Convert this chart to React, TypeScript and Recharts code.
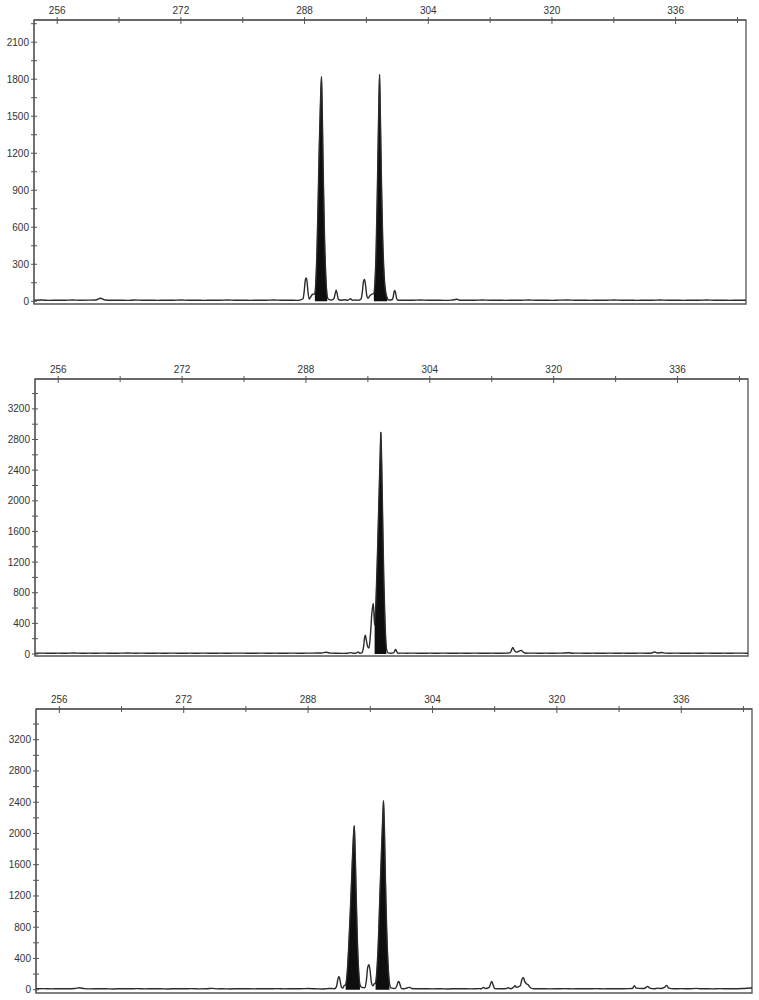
import { ComposedChart, Line, Area, XAxis, YAxis, ReferenceArea } from "recharts";

// fragment size axis shared by all three lanes
const sizeTicks = [256, 264, 272, 280, 288, 296, 304, 312, 320, 328, 336, 344];
const sizeLabels = [256, 272, 288, 304, 320, 336];
const sizeDomain: [number, number] = [253, 345.1];

// lane 1: [size, rfu]
const lane1Trace: [number, number][] = [
  [253, 8], [254, 10], [255, 7], [256, 9], [257, 8], [258, 10], [259, 8], [260, 9], [261, 11], [261.6, 25],
  [262.2, 10], [263, 8], [264, 9], [265, 7], [266, 10], [267, 8], [268, 9], [269, 7], [270, 9], [271, 8],
  [272, 10], [273, 8], [274, 9], [275, 7], [276, 9], [277, 8], [278, 10], [279, 8], [280, 9], [281, 7],
  [282, 9], [283, 8], [284, 10], [285, 8], [286, 9], [287, 7], [287.5, 12], [287.8, 20], [287.95, 80],
  [288.08, 165], [288.2, 190], [288.32, 160], [288.44, 75], [288.6, 18], [288.8, 35], [288.95, 52], [289.15, 58],
  [289.33, 60], [289.45, 150], [289.6, 400], [289.75, 800], [289.9, 1250], [290.05, 1600], [290.19, 1820],
  [290.31, 1450], [290.44, 950], [290.58, 520], [290.75, 200], [290.93, 40],
  [291.1, 15], [291.5, 10], [291.8, 20], [291.95, 60], [292.09, 89], [292.22, 60], [292.38, 15], [292.7, 8],
  [293.2, 12], [293.6, 9], [293.94, 20], [294.2, 8], [294.6, 10], [295.0, 9], [295.3, 18], [295.48, 80],
  [295.62, 160], [295.76, 176], [295.9, 125], [296.05, 45], [296.2, 25], [296.45, 45], [296.7, 58],
  [296.96, 62], [297.1, 150], [297.25, 400], [297.4, 850], [297.55, 1400], [297.7, 1838], [297.82, 1450],
  [297.95, 950], [298.1, 520], [298.3, 200], [298.5, 70], [298.69, 25],
  [298.9, 10], [299.3, 12], [299.48, 40], [299.58, 78], [299.68, 87], [299.8, 58], [299.97, 12], [300.3, 8],
  [301, 9], [302, 8], [303, 10], [304, 8], [305, 9], [306, 7], [307, 9], [307.7, 16], [308.2, 8], [309, 9],
  [310, 8], [311, 10], [312, 8], [313, 9], [314, 7], [315, 9], [316, 8], [317, 10], [318, 8], [319, 9],
  [320, 7], [321, 9], [322, 10], [323, 8], [324, 9], [325, 7], [326, 9], [327, 8], [328, 10], [329, 8],
  [330, 9], [331, 7], [332, 9], [333, 8], [334, 10], [335, 8], [336, 9], [337, 7], [338, 9], [339, 8],
  [340, 10], [341, 8], [342, 9], [343, 7], [344, 9], [345, 8], [345.1, 9],
];
const lane1Called: [number, number][] = [[289.33, 290.93], [296.96, 298.69]];
const lane1Ticks = [0, 150, 300, 450, 600, 750, 900, 1050, 1200, 1350, 1500, 1650, 1800, 1950, 2100, 2250];
const lane1Labels = [0, 300, 600, 900, 1200, 1500, 1800, 2100];
const lane1Domain: [number, number] = [-22, 2280];

// lane 2
const lane2Trace: [number, number][] = [
  [253, 10], [254, 12], [255, 9], [256, 11], [257, 10], [258, 13], [259, 9], [260, 11], [261, 10], [262, 12],
  [263, 9], [264, 11], [265, 13], [266, 10], [267, 12], [268, 9], [269, 11], [270, 10], [271, 12], [272, 9],
  [273, 11], [274, 10], [275, 12], [276, 9], [277, 11], [278, 10], [279, 12], [280, 11], [281, 9], [282, 12],
  [283, 10], [284, 11], [285, 9], [286, 12], [287, 10], [288, 11], [289, 12], [290, 13], [290.6, 22],
  [291.2, 12], [292, 9], [292.8, 8], [293.4, 10], [293.77, 18], [294.1, 9], [294.5, 12], [294.72, 28],
  [294.95, 10], [295.2, 15], [295.45, 100], [295.57, 210], [295.67, 244], [295.8, 180], [295.98, 95],
  [296.14, 78], [296.32, 240], [296.52, 540], [296.7, 659], [296.8, 500], [296.87, 380],
  [297.05, 700], [297.25, 1350], [297.45, 2100], [297.6, 2650], [297.68, 2894], [297.78, 2500],
  [297.92, 1700], [298.05, 1000], [298.2, 450], [298.38, 80],
  [298.6, 15], [299.0, 10], [299.35, 18], [299.48, 45], [299.58, 60], [299.7, 38], [299.87, 10], [300.5, 12],
  [301, 10], [302, 12], [303, 9], [304, 11], [305, 10], [306, 12], [307, 9], [308, 11], [309, 10], [310, 12],
  [311, 9], [312, 11], [313, 10], [314, 12], [314.4, 18], [314.58, 60], [314.72, 84], [314.9, 50],
  [315.2, 25], [315.5, 35], [315.8, 48], [316.1, 20], [316.5, 10], [317, 12], [318, 10], [319, 11],
  [320, 9], [321, 12], [322, 16], [322.5, 10], [323, 12], [324, 10], [325, 11], [326, 9], [327, 12],
  [328, 10], [329, 11], [330, 9], [331, 12], [332, 10], [332.7, 14], [333, 26], [333.4, 14], [334, 20],
  [334.4, 11], [335, 10], [336, 12], [337, 9], [338, 11], [339, 10], [340, 12], [341, 9], [342, 11],
  [343, 10], [344, 12], [345, 10], [345.1, 11],
];
const lane2Called: [number, number][] = [[296.87, 298.38]];
const lane2Ticks = [0, 200, 400, 600, 800, 1000, 1200, 1400, 1600, 1800, 2000, 2200, 2400, 2600, 2800, 3000, 3200, 3400];
const lane2Labels = [0, 400, 800, 1200, 1600, 2000, 2400, 2800, 3200];
const lane2Domain: [number, number] = [-26, 3590];

// lane 3
const lane3Trace: [number, number][] = [
  [253, 12], [254, 14], [255, 11], [256, 13], [257, 12], [258, 16], [258.6, 25], [259.2, 14], [260, 11],
  [261, 13], [262, 12], [263, 10], [264, 13], [265, 12], [266, 14], [267, 11], [268, 13], [269, 12],
  [270, 10], [271, 13], [272, 12], [273, 14], [274, 11], [275, 13], [275.7, 17], [276.3, 11], [277, 12],
  [278, 10], [279, 13], [280, 12], [281, 11], [282, 13], [283, 12], [284, 14], [285, 11], [286, 13],
  [287, 12], [288, 15], [289, 12], [289.8, 10], [290.5, 14], [291.0, 16], [291.4, 12], [291.65, 40],
  [291.82, 130], [291.97, 170], [292.12, 115], [292.3, 30], [292.45, 20], [292.65, 55], [292.83, 64],
  [293.0, 180], [293.2, 500], [293.45, 1050], [293.65, 1550], [293.8, 1900], [293.94, 2099], [294.06, 1750],
  [294.2, 1150], [294.35, 600], [294.5, 250], [294.67, 60],
  [294.9, 30], [295.3, 25], [295.5, 120], [295.66, 280], [295.82, 320], [295.97, 250], [296.15, 90],
  [296.35, 50], [296.5, 75], [296.68, 86],
  [296.85, 250], [297.05, 650], [297.25, 1250], [297.45, 1800], [297.6, 2200], [297.7, 2420], [297.82, 2050],
  [297.95, 1400], [298.1, 800], [298.3, 300], [298.47, 80],
  [298.7, 20], [299.2, 15], [299.42, 50], [299.56, 98], [299.67, 107], [299.82, 68], [300.0, 15], [300.4, 12],
  [300.8, 25], [301.08, 30], [301.35, 15], [302, 12], [303, 13], [304, 11], [305, 12], [306, 10], [307, 13],
  [308, 12], [309, 11], [310, 14], [310.3, 12], [310.56, 30], [310.8, 15], [311.3, 30], [311.48, 80],
  [311.63, 107], [311.8, 60], [312.0, 15], [313, 12], [313.5, 15], [313.77, 25], [314.0, 12], [314.4, 30],
  [314.63, 51], [314.8, 30], [315.3, 50], [315.5, 130], [315.69, 158], [315.85, 110], [316.1, 75],
  [316.33, 60], [316.6, 25], [317, 12], [318, 13], [319, 11], [320, 12], [321, 14], [322, 11], [323, 13],
  [324, 12], [325, 14], [326, 11], [327, 13], [328, 12], [329, 14], [329.7, 15], [329.97, 51], [330.2, 20],
  [331, 15], [331.4, 25], [331.68, 43], [331.95, 20], [332.5, 12], [333, 20], [333.3, 15], [333.85, 30],
  [334.12, 55], [334.4, 20], [335, 12], [336, 14], [337, 12], [337.97, 17], [338.5, 12], [339, 13],
  [340, 11], [341, 14], [342, 12], [343, 13], [344, 15], [345, 22], [345.1, 22],
];
const lane3Called: [number, number][] = [[292.83, 294.67], [296.68, 298.47]];
const lane3Ticks = lane2Ticks;
const lane3Labels = lane2Labels;
const lane3Domain: [number, number] = [-42, 3593];

const INK = "#333";
const FONT = "'Liberation Sans', Arial, sans-serif";

function buildRows(trace: [number, number][], called: [number, number][]) {
  return trace.map(([size, rfu]) => ({
    size,
    rfu,
    called: called.some(([a, b]) => size >= a - 1e-6 && size <= b + 1e-6) ? rfu : null,
  }));
}

function SizeTick(props: any) {
  const { x, y, payload } = props;
  const labelled = sizeLabels.includes(payload.value);
  return (
    <g>
      <line x1={x} x2={x} y1={y - 3} y2={y + (labelled ? 4 : 3)} stroke="#555" strokeWidth={1} />
      {labelled && (
        <text x={x} y={y - 6} textAnchor="middle" fontSize={10} fontFamily={FONT} fill={INK}>
          {payload.value}
        </text>
      )}
    </g>
  );
}

function makeRfuTick(labels: number[]) {
  return (props: any) => {
    const { x, y, payload } = props;
    const labelled = labels.includes(payload.value);
    return (
      <g>
        <line x1={x - 3} x2={x + 3} y1={y} y2={y} stroke="#555" strokeWidth={1} />
        {labelled && (
          <text x={x - 5} y={y} dy="0.35em" textAnchor="end" fontSize={10} fontFamily={FONT} fill={INK}>
            {payload.value}
          </text>
        )}
      </g>
    );
  };
}

interface LaneProps {
  top: number;
  height: number;
  axisWidth: number;
  right: number;
  trace: [number, number][];
  called: [number, number][];
  yTicks: number[];
  yLabels: number[];
  yDomain: [number, number];
}

function Lane({ top, height, axisWidth, right, trace, called, yTicks, yLabels, yDomain }: LaneProps) {
  const rows = buildRows(trace, called);
  return (
    <div style={{ position: "absolute", left: 0, top }}>
      <ComposedChart
        width={759}
        height={height}
        data={rows}
        margin={{ top: 0, right, bottom: 6, left: 0 }}
      >
        <XAxis
          type="number"
          dataKey="size"
          orientation="top"
          domain={sizeDomain}
          allowDataOverflow
          ticks={sizeTicks}
          interval={0}
          height={20}
          tickSize={0}
          tickMargin={0}
          tickLine={false}
          axisLine={{ stroke: "#555" }}
          tick={SizeTick}
        />
        <YAxis
          type="number"
          domain={yDomain}
          allowDataOverflow
          ticks={yTicks}
          interval={0}
          width={axisWidth}
          tickSize={0}
          tickMargin={0}
          tickLine={false}
          axisLine={{ stroke: "#555" }}
          tick={makeRfuTick(yLabels)}
        />
        <ReferenceArea
          x1={sizeDomain[0]}
          x2={sizeDomain[1]}
          y1={yDomain[0]}
          y2={yDomain[1]}
          fill="none"
          stroke="#555"
          strokeWidth={1.3}
          ifOverflow="visible"
        />
        <Area
          type="monotone"
          dataKey="called"
          stroke="#111"
          strokeWidth={0.6}
          fill="#0e0e0e"
          fillOpacity={1}
          connectNulls={false}
          dot={false}
          activeDot={false}
          isAnimationActive={false}
        />
        <Line
          type="monotone"
          dataKey="rfu"
          stroke="#2b2b2b"
          strokeWidth={1.4}
          dot={false}
          activeDot={false}
          isAnimationActive={false}
        />
      </ComposedChart>
    </div>
  );
}

export default function App() {
  return (
    <div style={{ position: "absolute", left: 0, top: 0, width: 759, height: 1000, background: "#fff" }}>
      <Lane top={0} height={310} axisWidth={34} right={13} trace={lane1Trace} called={lane1Called}
        yTicks={lane1Ticks} yLabels={lane1Labels} yDomain={lane1Domain} />
      <Lane top={359} height={303} axisWidth={35} right={11} trace={lane2Trace} called={lane2Called}
        yTicks={lane2Ticks} yLabels={lane2Labels} yDomain={lane2Domain} />
      <Lane top={689} height={310} axisWidth={36} right={7} trace={lane3Trace} called={lane3Called}
        yTicks={lane3Ticks} yLabels={lane3Labels} yDomain={lane3Domain} />
    </div>
  );
}
